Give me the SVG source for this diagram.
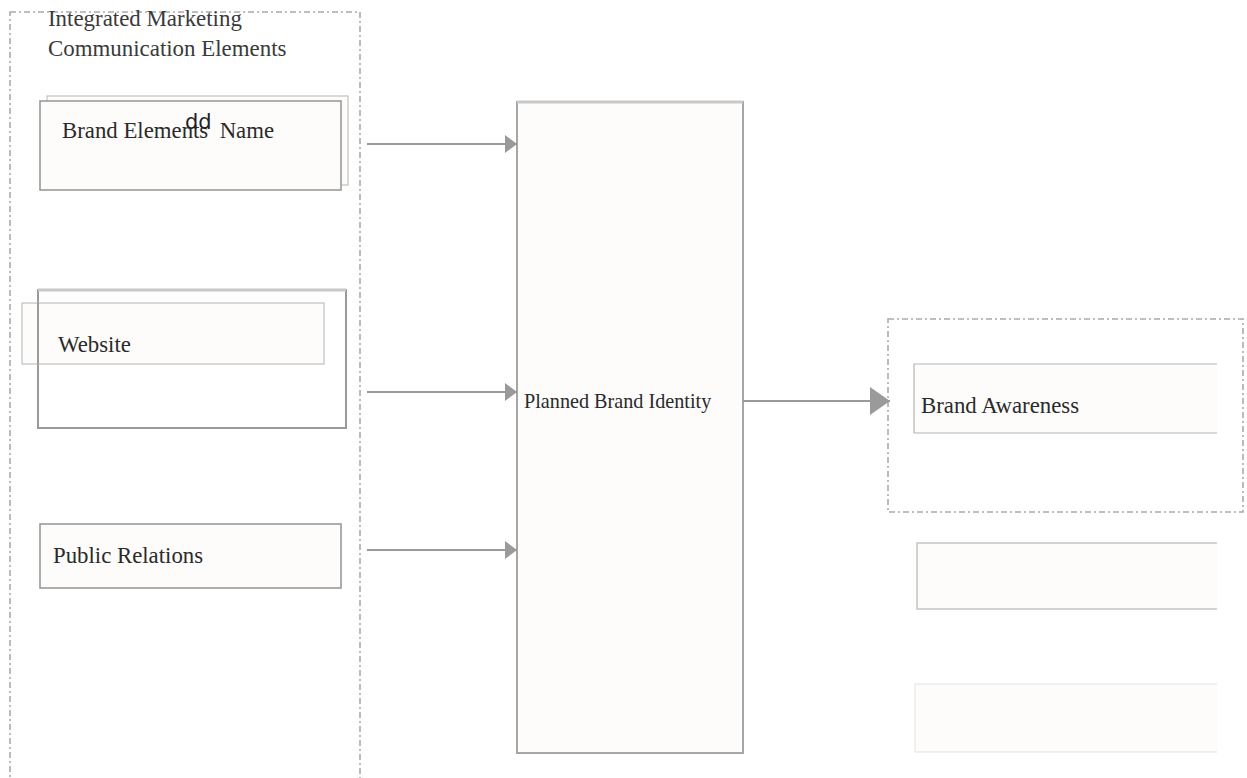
<svg xmlns="http://www.w3.org/2000/svg" width="1247" height="778" viewBox="0 0 1247 778">
  <style>
    .lbl { font-family: "Liberation Serif", "Times New Roman", serif; font-size: 22.8px; fill: #2a2a2a; }
    .title { font-family: "Liberation Serif", "Times New Roman", serif; font-size: 22.9px; fill: #3a3a3a; }
    .container { fill: none; stroke: #ababab; stroke-width: 1.6; stroke-dasharray: 6 3 2 3; }
    .box { fill: #fdfcfb; stroke: #9a9a9a; stroke-width: 1.6; }
    .thin { fill: #fdfcfb; stroke: #b4b4b4; stroke-width: 1; }
    .faint { fill: #fdfcfb; stroke: #e2e2e2; stroke-width: 1; }
    .conn { stroke: #9a9a9a; stroke-width: 2; fill: none; }
  </style>
  <defs>
    <marker id="ah" markerUnits="userSpaceOnUse" markerWidth="12" markerHeight="18" refX="12" refY="9" orient="auto">
      <path d="M0,0 L12,9 L0,18 Z" fill="#9a9a9a"/>
    </marker>
    <marker id="ahBig" markerUnits="userSpaceOnUse" markerWidth="20" markerHeight="28" refX="20" refY="14" orient="auto">
      <path d="M0,0 L20,14 L0,28 Z" fill="#9a9a9a"/>
    </marker>
  </defs>
  <rect width="1247" height="778" fill="#ffffff"/>

  <g id="imc-container">
    <rect class="container" x="10" y="12" width="350" height="800"/>
    <text class="title" x="48" y="26">Integrated Marketing</text>
    <text class="title" x="48" y="56">Communication Elements</text>
  </g>

  <g id="brand-elements">
    <rect class="thin" x="47" y="96" width="301" height="89"/>
    <rect class="box" x="40" y="101" width="301" height="89"/>
    <text class="lbl" x="62" y="138" xml:space="preserve">Brand Elements  Name</text>
    <text x="185" y="129" font-family="DejaVu Sans, sans-serif" font-size="21" fill="#222">dd</text>
  </g>

  <g id="website">
    <rect x="38" y="290" width="308" height="138" fill="#ffffff" stroke="#9a9a9a" stroke-width="2"/>
    <line x1="38" y1="290" x2="346" y2="290" stroke="#c8c8c8" stroke-width="3"/>
    <rect class="thin" x="22" y="303" width="302" height="61"/>
    <line x1="38" y1="303" x2="38" y2="364" stroke="#9a9a9a" stroke-width="2"/>
    <text class="lbl" x="58" y="352">Website</text>
  </g>

  <g id="public-relations">
    <rect class="box" x="40" y="524" width="301" height="64"/>
    <text class="lbl" x="53" y="563">Public Relations</text>
  </g>

  <g id="planned-brand-identity">
    <rect x="517" y="102" width="226" height="651" fill="#fdfcfb" stroke="#a6a6a6" stroke-width="2"/>
    <line x1="517" y1="102" x2="743" y2="102" stroke="#c8c8c8" stroke-width="3"/>
    <text class="lbl" x="524" y="408" style="font-size:20.2px">Planned Brand Identity</text>
  </g>

  <g id="outcome-container">
    <rect class="container" x="888" y="319" width="355" height="193"/>
  </g>

  <g id="brand-awareness">
    <path d="M1217,364 L914,364 L914,433 L1217,433" fill="#fdfcfb" stroke="#b4b4b4" stroke-width="1.2"/>
    <text class="lbl" x="921" y="413">Brand Awareness</text>
  </g>

  <g id="empty-box-1">
    <path d="M1217,543 L917,543 L917,609 L1217,609" fill="#fdfcfb" stroke="#c4c4c4" stroke-width="1.5"/>
  </g>

  <g id="empty-box-2">
    <path d="M1217,684 L915,684 L915,752 L1217,752" class="faint"/>
  </g>

  <g id="connectors">
    <line class="conn" x1="367" y1="144" x2="517" y2="144" marker-end="url(#ah)"/>
    <line class="conn" x1="367" y1="392" x2="517" y2="392" marker-end="url(#ah)"/>
    <line class="conn" x1="367" y1="550" x2="517" y2="550" marker-end="url(#ah)"/>
    <line class="conn" x1="743" y1="401" x2="890" y2="401" marker-end="url(#ahBig)"/>
  </g>
</svg>
